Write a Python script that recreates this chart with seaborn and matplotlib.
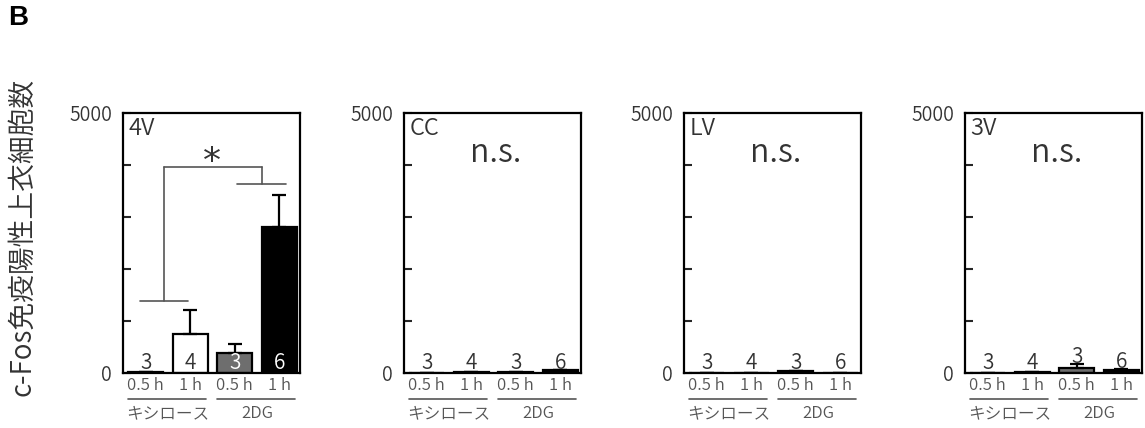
import matplotlib
matplotlib.use("Agg")
import matplotlib.pyplot as plt
import seaborn as sns
import pandas as pd
import numpy as np

sns.set_theme(style="white")
plt.rcParams['font.family'] = ['Noto Sans CJK JP', 'DejaVu Sans']
plt.rcParams['font.weight'] = 350

# ---- data ----
regions = ["4V", "CC", "LV", "3V"]
conditions = ["キシロース 0.5 h", "キシロース 1 h", "2DG 0.5 h", "2DG 1 h"]
time_labels = ["0.5 h", "1 h", "0.5 h", "1 h"]
group_labels = ["キシロース", "2DG"]
n_counts = [3, 4, 3, 6]
means = {
    "4V": [15, 745, 390, 2815],
    "CC": [5, 25, 20, 55],
    "LV": [3, 5, 35, 8],
    "3V": [5, 10, 100, 55],
}
sems = {
    "4V": [0, 465, 160, 600],
    "CC": [0, 0, 0, 10],
    "LV": [0, 0, 0, 0],
    "3V": [0, 0, 70, 15],
}
significance = ["*", "n.s.", "n.s.", "n.s."]
bar_colors = ["white", "white", "#6e6e6e", "black"]
count_colors = {"4V": ["#333333", "#333333", "white", "white"]}

W, H = 1145, 428
fig = plt.figure(figsize=(W / 100, H / 100), dpi=100)
lefts = [123, 404, 684, 965]
ax_w, ax_top, ax_bot = 177, 113, 373

txt = "#333333"
gray = "#555555"

for i, reg in enumerate(regions):
    ax = fig.add_axes([lefts[i] / W, (H - ax_bot) / H, ax_w / W, (ax_bot - ax_top) / H])
    df = pd.DataFrame({"cond": conditions, "val": means[reg]})
    sns.barplot(data=df, x="cond", y="val", hue="cond", palette=bar_colors,
                legend=False, edgecolor="black", linewidth=1.6, width=0.79,
                ax=ax, errorbar=None)
    x = np.arange(len(conditions))
    ax.errorbar(x, means[reg], yerr=[np.zeros(4), sems[reg]], fmt="none",
                ecolor="black", elinewidth=1.6, capsize=5, capthick=1.6, zorder=3)
    ax.set_xlim(-0.51, 3.47)
    ax.set_ylim(0, 5000)
    ax.set_yticks([0, 1000, 2000, 3000, 4000, 5000])
    ax.set_yticklabels(["0", "", "", "", "", "5000"])
    ax.tick_params(axis="y", direction="in", length=6, width=1.5, pad=8,
                   labelsize=14, labelcolor=txt, left=True)
    ax.set_xticks(x)
    ax.set_xticklabels(time_labels)
    ax.tick_params(axis="x", length=0, pad=3, labelsize=12, labelcolor=gray)
    ax.set_xlabel("")
    ax.set_ylabel("")
    for s in ax.spines.values():
        s.set_visible(True)
        s.set_color("black")
        s.set_linewidth(1.6)

    # region label
    ax.text(0.03, 0.985, reg, transform=ax.transAxes, ha="left", va="top",
            fontsize=17, color=txt)

    # counts
    cc = count_colors.get(reg, [txt] * 4)
    for j in range(4):
        top = means[reg][j] + sems[reg][j]
        yb = max(70, top + 20) if reg != "4V" else 70
        ax.text(x[j], yb, str(n_counts[j]), ha="center", va="baseline",
                fontsize=15, color=cc[j])

    # group lines & labels
    trans = ax.get_xaxis_transform()
    for g, (a, b) in enumerate([(0, 1), (2, 3)]):
        ax.plot([a - 0.4, b + 0.35], [-0.1, -0.1], transform=trans, color=gray,
                lw=1.2, clip_on=False)
        ax.text((a + b) / 2, -0.155, group_labels[g], transform=trans,
                ha="center", va="center", fontsize=12, color=gray)

    if significance[i] == "n.s.":
        ax.text(0.52, 0.81, "n.s.", transform=ax.transAxes, ha="center",
                va="baseline", fontsize=23, color=txt)
    else:
        bc = "#555555"
        ax.plot([-0.12, 0.955], [1390, 1390], color=bc, lw=1.2)
        ax.plot([0.416, 0.416], [1390, 3967], color=bc, lw=1.2)
        ax.plot([0.416, 2.62], [3967, 3967], color=bc, lw=1.2)
        ax.plot([2.62, 2.62], [3967, 3635], color=bc, lw=1.2)
        ax.plot([2.056, 3.157], [3635, 3635], color=bc, lw=1.2)
        ax.text(1.49, 4060, "*", ha="center", va="center", fontsize=26,
                color=txt, family=["DejaVu Sans"], fontweight="normal")

fig.text(22 / W, (H - 237) / H, "c-Fos免疫陽性上衣細胞数", rotation=90,
         ha="center", va="center", fontsize=20, color=txt)
fig.text(8 / W, 1 - 5 / H, "B", ha="left", va="top", fontsize=20,
         fontweight="bold", family=["Liberation Sans", "DejaVu Sans"], color="black")

fig.savefig("out.png", dpi=100)
